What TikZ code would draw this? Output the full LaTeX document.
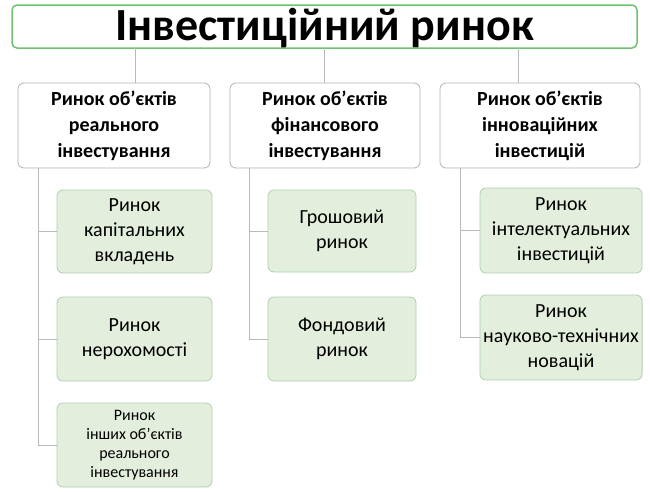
\documentclass[tikz,border=0pt]{standalone}
\usepackage{fontspec}
\setmainfont[Ligatures=NoCommon]{Carlito}
\newfontfamily\plainap{Carlito}
\newcommand{\ap}{{\char"27}}
\begin{document}
\begin{tikzpicture}[x=1pt,y=-1pt,
 title/.style={draw=green!40!gray!80,line width=1.5pt,fill=white,rounded corners=5pt},
 lvl/.style={draw=gray!60,line width=0.8pt,fill=white,rounded corners=6pt,font=\bfseries\fontsize{20}{26}\selectfont,align=center},
 leaf/.style={draw=green!25!gray!50,line width=0.8pt,fill={rgb,255:red,227;green,238;blue,220},rounded corners=6pt,font=\fontsize{20}{25}\selectfont,align=center},
 conn/.style={draw=gray!55,line width=0.8pt}]
\useasboundingbox (0,0) rectangle (650,491);
\path[title] (12,5) rectangle (637,48);
\node[font=\bfseries\fontsize{46}{48}\selectfont] (tt) at (324.5,28.5) {Інвестиційний ринок};
% level nodes
\node[lvl,minimum width=192pt,minimum height=85pt] (a) at (114,125.5) {Ринок об\ap єктів\\реального\\інвестування};
\node[lvl,minimum width=190pt,minimum height=85pt] (b) at (325,125.5) {Ринок об\ap єктів\\фінансового\\інвестування};
\node[lvl,minimum width=200pt,minimum height=85pt] (c) at (540,125.5) {Ринок об’єктів\\інноваційних\\інвестицій};
\draw[conn] (135,48) -- (135,83);
\draw[conn] (324,48) -- (324,83);
\draw[conn] (518,48) -- (518,83);
% leaves
\node[leaf,minimum width=155pt,minimum height=83pt] (a1) at (134.5,231.5) {Ринок\\капітальних\\вкладень};
\node[leaf,minimum width=155pt,minimum height=84pt] (a2) at (134.5,339) {Ринок\\нерохомості};
\node[leaf,minimum width=155pt,minimum height=84pt,font=\fontsize{16}{19}\selectfont] (a3) at (134.5,445) {Ринок\\інших об\ap єктів\\реального\\інвестування};
\node[leaf,minimum width=148pt,minimum height=82pt] (b1) at (342,231) {Грошовий\\ринок};
\node[leaf,minimum width=148pt,minimum height=84pt] (b2) at (342,339) {Фондовий\\ринок};
\node[leaf,minimum width=162pt,minimum height=85pt] (c1) at (561,230.5) {Ринок\\інтелектуальних\\інвестицій};
\node[leaf,minimum width=162pt,minimum height=85pt] (c2) at (561,337.5) {Ринок\\науково-технічних\\новацій};
\draw[conn] (38,168) -- (38,445) -- (a3.west);
\draw[conn] (38,231.5) -- (a1.west);
\draw[conn] (38,339) -- (a2.west);
\draw[conn] (249,168) -- (249,339) -- (b2.west);
\draw[conn] (249,231) -- (b1.west);
\draw[conn] (460,168) -- (460,337.5) -- (c2.west);
\draw[conn] (460,230.5) -- (c1.west);
\end{tikzpicture}
\end{document}
